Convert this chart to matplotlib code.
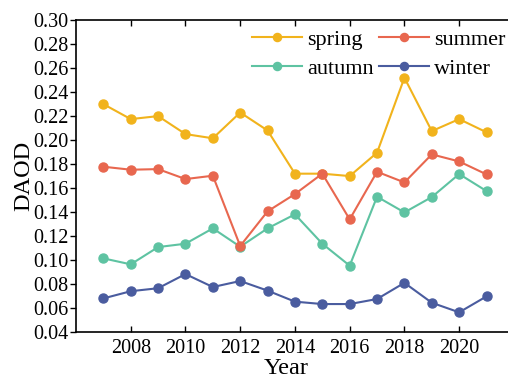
import matplotlib
matplotlib.use("Agg")
import matplotlib.pyplot as plt

years = list(range(2007, 2022))
spring = [0.230, 0.2175, 0.220, 0.205, 0.2015, 0.223, 0.208, 0.172, 0.172, 0.170, 0.1895, 0.252, 0.2075, 0.2175, 0.2065]
summer = [0.1778, 0.1753, 0.1758, 0.1675, 0.1703, 0.1117, 0.1406, 0.155, 0.172, 0.1339, 0.1736, 0.1647, 0.1881, 0.1822, 0.1714]
autumn = [0.1014, 0.0964, 0.1108, 0.1136, 0.1264, 0.1111, 0.1264, 0.1381, 0.1136, 0.0953, 0.1528, 0.1397, 0.1525, 0.1717, 0.1575]
winter = [0.068, 0.074, 0.0765, 0.0883, 0.0775, 0.0825, 0.0745, 0.0653, 0.0633, 0.0633, 0.0675, 0.081, 0.0644, 0.0564, 0.0697]

colors = {"spring": "#F1B31C", "summer": "#E8674F", "autumn": "#5EC3A2", "winter": "#4A5C9F"}

plt.rcParams['font.family'] = ['Liberation Serif', 'DejaVu Serif']

fig = plt.figure(figsize=(5.08, 3.78), dpi=100)
ax = fig.add_axes([0.1496, 0.1217, 0.862, 0.825])

for name, vals in [("spring", spring), ("autumn", autumn), ("summer", summer), ("winter", winter)]:
    ax.plot(years, vals, color=colors[name], marker='o', markersize=6.5, linewidth=1.5, label=name)

ax.set_xlim(2006, 2022)
ax.set_ylim(0.04, 0.30)
ax.set_xticks(list(range(2008, 2022, 2)))
ax.set_yticks([0.04 + 0.02 * i for i in range(14)])
ax.set_yticklabels([f"{0.04 + 0.02 * i:.2f}" for i in range(14)])
ax.tick_params(axis='x', direction='in', top=True, labelsize=14.5, length=4, width=1, pad=5)
ax.tick_params(axis='y', direction='out', labelsize=14.5, length=4, width=1, pad=1.5)
for s in ax.spines.values():
    s.set_linewidth(1.2)
ax.spines['right'].set_visible(False)
ax.set_xlabel("Year", fontsize=17.5)
ax.xaxis.set_label_coords(0.481, -0.082)
ax.set_ylabel("DAOD", fontsize=17.5, labelpad=-1)

ax.legend(ncol=2, frameon=False, loc='upper left', bbox_to_anchor=(0.402, 0.970),
          fontsize=16, handlelength=2.25, columnspacing=0.25, handletextpad=0.23,
          labelspacing=0.36, borderaxespad=0, borderpad=0, markerscale=0.9)

fig.savefig("out.png", dpi=100)
